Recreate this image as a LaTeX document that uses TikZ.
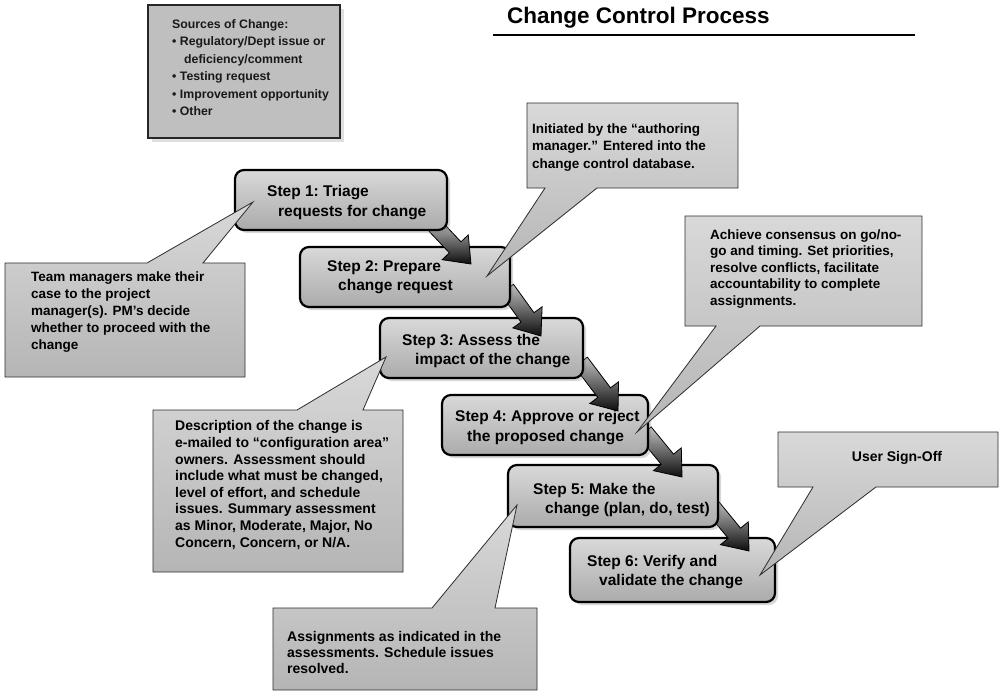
\documentclass[tikz,border=0pt]{standalone}
\usepackage{fontspec}
\setmainfont{Liberation Sans}
\usetikzlibrary{calc,shadows}
\sfcode`\:=1000

\tikzset{
  stepbox/.style={draw=black, line width=2.2pt, rounded corners=9pt,
    top color=gray!30, bottom color=gray!66,
    drop shadow={shadow xshift=3pt, shadow yshift=-3pt, opacity=0.3}},
  steptext/.style={font=\fontsize{15.5}{19.5}\selectfont\bfseries, align=left,
    inner sep=0pt, anchor=west},
  callout/.style={draw=gray!35!black, line width=0.8pt,
    top color=gray!30, bottom color=gray!58},
  calltext/.style={font=\fontsize{13.5}{16.8}\selectfont\bfseries, align=left,
    inner sep=0pt, anchor=west},
  flowarrow/.style={draw=black, line width=0.8pt, line join=miter,
    top color=gray!50, bottom color=gray!10!black},
  notebox/.style={draw=gray!30!black, line width=2pt, fill=gray!50,
    drop shadow={shadow xshift=4pt, shadow yshift=-4pt, opacity=0.25}},
  notetext/.style={font=\fontsize{12.3}{17.5}\selectfont\bfseries, align=left,
    inner sep=0pt, anchor=north west, text=gray!20!black}
}

% block arrow: #1 name prefix, #2 tail coordinate, #3 tip coordinate
\newcommand\blockarrow[3]{%
  \coordinate (#1h) at ($(#3)!23pt!(#2)$);
  \draw[flowarrow]
    ($(#2)!8pt!90:(#3)$) -- ($(#1h)!8pt!-90:(#2)$) -- ($(#1h)!18pt!-90:(#2)$)
    -- (#3) -- ($(#1h)!18pt!90:(#2)$) -- ($(#1h)!8pt!90:(#2)$)
    -- ($(#2)!8pt!-90:(#3)$) -- cycle;
}

\begin{document}
\begin{tikzpicture}[x=1pt,y=-1pt]
\useasboundingbox (0,0) rectangle (1000,693);
\fill[white] (0,0) rectangle (1000,693);

% sources note
\node[notebox, minimum width=192pt, minimum height=133pt] (note) at (244,71.5) {};
\node[notetext] (notetxt) at (172,19) {Sources of Change:\\
  \textbullet\ Regulatory/Dept issue or\\
  \hspace*{12pt}deficiency/comment\\
  \textbullet\ Testing request\\
  \textbullet\ Improvement opportunity\\
  \textbullet\ Other};

% title
\node[font=\fontsize{22.5}{26}\selectfont\bfseries, inner sep=0pt, anchor=base west]
  (title) at (507,24) {Change Control Process};
\coordinate (ulA) at (493,35);
\coordinate (ulB) at (915,35);
\draw[line width=1.5pt] (ulA) -- (ulB);

% process steps, drawn from last to first so each arrow sits under its source box
\node[stepbox, minimum width=205pt, minimum height=64pt] (s6) at (672.5,570) {};
\node[steptext] (t6) at (587,572) {Step 6: Verify and\\\hspace*{12pt}validate the change};
\coordinate (a56s) at (712,506);
\coordinate (a56e) at (749,551);
\blockarrow{a56}{a56s}{a56e}

\node[stepbox, minimum width=210pt, minimum height=62pt] (s5) at (613,496) {};
\node[steptext] (t5) at (533,500) {Step 5: Make the\\\hspace*{12pt}change (plan, do, test)};
\coordinate (a45s) at (645,432);
\coordinate (a45e) at (682,477);
\blockarrow{a45}{a45s}{a45e}

\node[stepbox, minimum width=206pt, minimum height=60pt] (s4) at (545,425) {};
\node[steptext] (t4) at (455,427.5) {Step 4: Approve or reject\\\hspace*{12pt}the proposed change};
\coordinate (a34s) at (581,362);
\coordinate (a34e) at (618,411);
\blockarrow{a34}{a34s}{a34e}

\node[stepbox, minimum width=203pt, minimum height=60pt] (s3) at (481.5,348) {};
\node[steptext] (t3) at (402,351) {Step 3: Assess the\\\hspace*{13pt}impact of the change};
\coordinate (a23s) at (507,289);
\coordinate (a23e) at (541,336);
\blockarrow{a23}{a23s}{a23e}

\node[stepbox, minimum width=210pt, minimum height=60pt] (s2) at (405,277) {};
\node[steptext] (t2) at (327,277) {Step 2: Prepare\\\hspace*{11pt}change request};
\coordinate (a12s) at (435,226);
\coordinate (a12e) at (471,264);
\blockarrow{a12}{a12s}{a12e}

\node[stepbox, minimum width=212pt, minimum height=60pt] (s1) at (341,200) {};
\node[steptext] (t1) at (267,202.5) {Step 1: Triage\\\hspace*{11pt}requests for change};

% callouts
\coordinate (tipA) at (253,202);
\path[callout] (5,263) -- (147,263) -- (tipA) -- (203,263) -- (245,263)
  -- (245,377) -- (5,377) -- cycle;
\node[calltext, font=\fontsize{13.5}{17}\selectfont\bfseries] (cA) at (31,312.5)
  {Team managers make their\\case to the project\\manager(s).  PM's decide\\whether to proceed with the\\change};

\coordinate (tipB) at (487,276);
\path[callout] (527,103) -- (738,103) -- (738,188) -- (597,188) -- (tipB)
  -- (545,188) -- (527,188) -- cycle;
\node[calltext, font=\fontsize{13.5}{17.5}\selectfont\bfseries] (cB) at (532,147.5)
  {Initiated by the “authoring\\manager.”  Entered into the\\change control database.};

\coordinate (tipC) at (637,432);
\path[callout] (685,216) -- (922,216) -- (922,326) -- (760,326) -- (tipC)
  -- (716,326) -- (685,326) -- cycle;
\node[calltext, font=\fontsize{13.5}{16.5}\selectfont\bfseries] (cC) at (710,269)
  {Achieve consensus on go/no-\\go and timing.  Set priorities,\\resolve conflicts, facilitate\\accountability to complete\\assignments.};

\coordinate (tipD) at (386,357);
\path[callout] (153,410) -- (297,410) -- (tipD) -- (363,410) -- (403,410)
  -- (403,572) -- (153,572) -- cycle;
\node[calltext, font=\fontsize{14}{16.6}\selectfont\bfseries] (cD) at (175,485)
  {Description of the change is\\e-mailed to “configuration area”\\owners.  Assessment should\\include what must be changed,\\level of effort, and schedule\\issues.  Summary assessment\\as Minor, Moderate, Major, No\\Concern, Concern, or N/A.};

\coordinate (tipE) at (517,505);
\path[callout] (273,608) -- (432,608) -- (tipE) -- (495,608) -- (537,608)
  -- (537,690) -- (273,690) -- cycle;
\node[calltext, font=\fontsize{14}{16}\selectfont\bfseries] (cE) at (287,652)
  {Assignments as indicated in the\\assessments.  Schedule issues\\resolved.};

\coordinate (tipF) at (760,575);
\path[callout] (778,432) -- (998,432) -- (998,487) -- (876,487) -- (tipF)
  -- (813,487) -- (778,487) -- cycle;
\node[font=\fontsize{14}{16}\selectfont\bfseries, inner sep=0pt] (cF) at (897,458) {User Sign-Off};

\end{tikzpicture}
\end{document}
